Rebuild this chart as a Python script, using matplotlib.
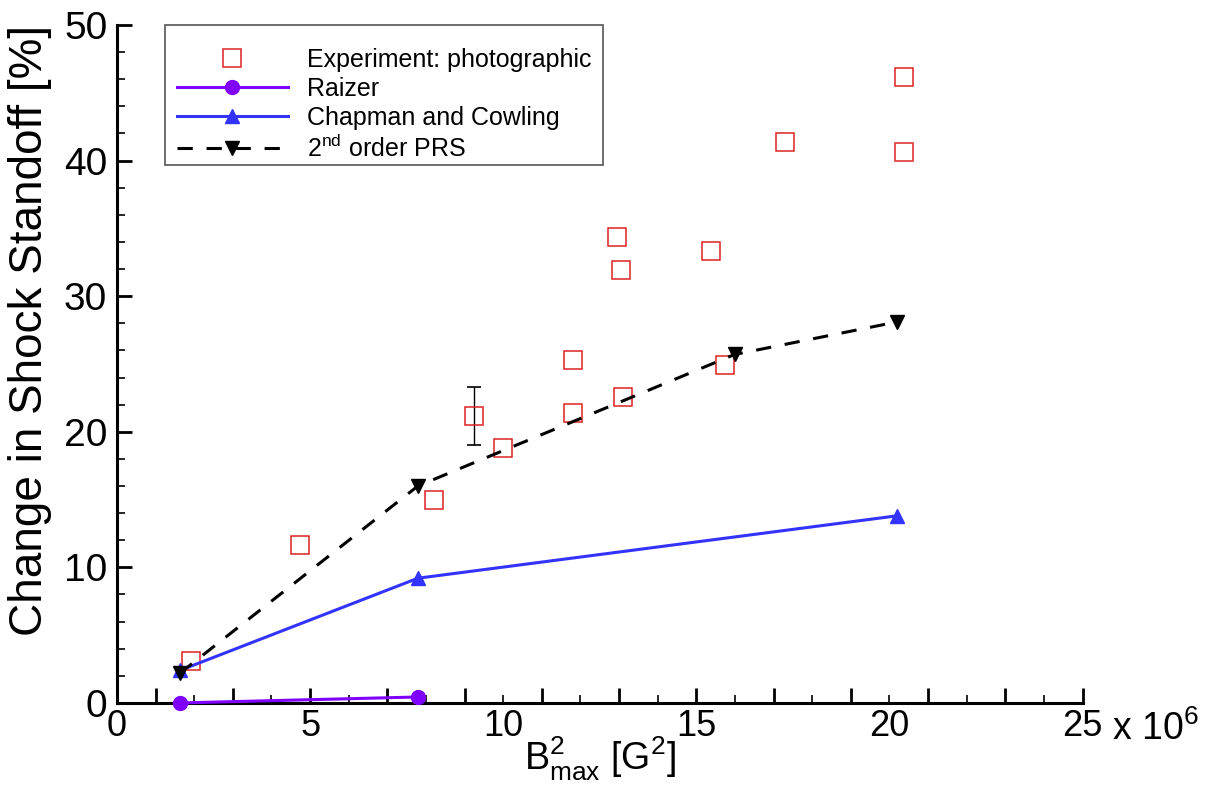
import numpy as np
import matplotlib
matplotlib.use('Agg')
import matplotlib.pyplot as plt
from matplotlib.ticker import FixedLocator, NullFormatter
from matplotlib.patches import Rectangle

plt.rcParams['font.family'] = ['Liberation Sans', 'DejaVu Sans']
plt.rcParams['mathtext.fontset'] = 'custom'
plt.rcParams['mathtext.rm'] = 'Liberation Sans'
plt.rcParams['mathtext.it'] = 'Liberation Sans:italic'
plt.rcParams['mathtext.bf'] = 'Liberation Sans:bold'

# Experiment: photographic (x in 1e6 G^2, y in %)
exp_x = [1.92, 4.74, 8.2, 9.24, 9.99, 11.8, 11.8, 12.94, 13.04, 13.1, 15.37, 15.73, 17.29, 20.37, 20.37]
exp_y = [3.1, 11.65, 14.97, 21.2, 18.8, 25.3, 21.4, 34.4, 31.9, 22.6, 33.3, 24.9, 41.4, 46.2, 40.6]
# error bar on one point
err_x = [9.24]
err_y = [21.2]
err_lo = [2.2]
err_hi = [2.1]

raizer_x = [1.63, 7.79]
raizer_y = [0.0, 0.44]

chap_x = [1.63, 7.79, 20.19]
chap_y = [2.4, 9.2, 13.8]

prs_x = [1.63, 7.79, 15.99, 20.19]
prs_y = [2.2, 16.0, 25.7, 28.1]

x_labels = [0, 5, 10, 15, 20, 25]
y_labels = [0, 10, 20, 30, 40, 50]

fig = plt.figure(figsize=(12.15, 7.97), dpi=100)
ax = fig.add_axes([0.0963, 0.118, 0.7947, 0.8506])

ax.errorbar(err_x, err_y, yerr=[err_lo, err_hi], fmt='none', ecolor='black',
            elinewidth=1, capsize=5, capthick=1.2, zorder=2)
ax.plot(exp_x, exp_y, 's', ms=13, mfc='none', mec='#dd2222', mew=1.1,
        label='Experiment: photographic', zorder=3)
ax.plot(raizer_x, raizer_y, '-o', color='#7f00ff', lw=2.2, ms=10,
        label='Raizer', zorder=4, clip_on=False)
ax.plot(chap_x, chap_y, '-^', color='#3333ff', lw=2.2, ms=10,
        label='Chapman and Cowling', zorder=4)
ax.plot(prs_x, prs_y, '--v', color='black', lw=2.2, ms=10, dashes=(5, 4.5),
        label='2$^{\\rm nd}$ order PRS', zorder=5)

ax.set_xlim(0, 25)
ax.set_ylim(0, 50)

ax.spines['top'].set_visible(False)
ax.spines['right'].set_visible(False)
ax.spines['left'].set_linewidth(2.2)
ax.spines['bottom'].set_linewidth(2.2)

# x ticks: tall at odd values, short at even, labels via secondary axis
ax.xaxis.set_major_locator(FixedLocator(np.arange(1, 26, 2)))
ax.xaxis.set_minor_locator(FixedLocator(np.arange(2, 25, 2)))
ax.xaxis.set_major_formatter(NullFormatter())
ax.tick_params(axis='x', which='major', direction='in', length=11, width=2)
ax.tick_params(axis='x', which='minor', direction='in', length=6, width=1.2)

sec = ax.secondary_xaxis('bottom')
sec.set_xticks(x_labels)
sec.set_xticklabels([str(v) for v in x_labels], fontsize=26)
sec.tick_params(length=0, pad=4)
sec.spines['bottom'].set_visible(False)
sec.set_xlabel('B$^2_{\\rm max}$ [G$^2$]', fontsize=27, labelpad=-6)
ax.annotate('x 10$^6$', xy=(25, 0), xycoords=('data', 'axes fraction'),
            xytext=(21, -5.5), textcoords='offset points', ha='left', va='top',
            fontsize=27)

ax.set_yticks(y_labels)
ax.yaxis.set_minor_locator(FixedLocator([v for v in range(0, 51, 2) if v % 10]))
ax.tick_params(axis='y', which='major', direction='in', length=11, width=2,
               labelsize=28, pad=7)
ax.tick_params(axis='y', which='minor', direction='in', length=6, width=1.2)
ax.set_ylabel('Change in Shock Standoff [%]', fontsize=33)
ax.yaxis.set_label_coords(-0.067, 0.55)

# legend box drawn separately, entries without frame
ax.add_patch(Rectangle((0.0497, 0.7935), 0.4534, 0.2065, transform=ax.transAxes,
                       fill=False, edgecolor='#555555', lw=1.2, zorder=6,
                       clip_on=False))
leg = ax.legend(loc='upper left', bbox_to_anchor=(0.0621, 0.966), fontsize=18,
                frameon=False, handlelength=4.44, borderpad=0,
                labelspacing=0.2, handletextpad=0.76, borderaxespad=0)

fig.savefig('out.png', dpi=100)
